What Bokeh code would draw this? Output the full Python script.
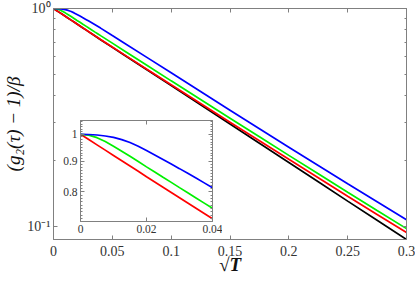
from bokeh.plotting import figure
from bokeh.models import ColumnDataSource, FixedTicker, LinearAxis, LogAxis, Range1d, CustomJSTickFormatter
from bokeh.embed import file_html
from bokeh.resources import INLINE

# sqrt(T) sample positions
x = [0, 0.0025, 0.005, 0.0075, 0.01, 0.0125, 0.015, 0.0175, 0.02, 0.0225, 0.025, 0.0275,
     0.03, 0.0325, 0.035, 0.0375, 0.04, 0.05, 0.06, 0.08,
     0.1, 0.125, 0.15, 0.175, 0.2, 0.225, 0.25, 0.275, 0.3]

# (g2(tau)-1)/beta for the four curves
black = [1.0, 0.9797, 0.9598, 0.9404, 0.9213, 0.9026, 0.8843, 0.8664, 0.8483, 0.8311, 0.8140, 0.7974,
         0.7811, 0.7652, 0.7495, 0.7340, 0.7189, 0.6630, 0.6114, 0.5200,
         0.4422, 0.3613, 0.2949, 0.2407, 0.1963, 0.1601, 0.1304, 0.1065, 0.0869]
red = [1.0, 0.9797, 0.9598, 0.9404, 0.9213, 0.9026, 0.8843, 0.8664, 0.8483, 0.8313, 0.8146, 0.7981,
       0.7819, 0.7661, 0.7505, 0.7353, 0.7204, 0.6650, 0.6139, 0.5231,
       0.4462, 0.3660, 0.3003, 0.2468, 0.2029, 0.1670, 0.1374, 0.1133, 0.0935]
green = [1.0, 0.9970, 0.9871, 0.9724, 0.9550, 0.9366, 0.9181, 0.8996, 0.8813, 0.8639, 0.8466, 0.8298,
         0.8132, 0.7971, 0.7812, 0.7657, 0.7504, 0.6935, 0.6402, 0.5455,
         0.4653, 0.3818, 0.3132, 0.2574, 0.2116, 0.1741, 0.1433, 0.1181, 0.0975]
blue = [1.0, 0.9993, 0.9972, 0.9934, 0.9881, 0.9797, 0.9685, 0.9546, 0.9389, 0.9231, 0.9072, 0.8912,
        0.8753, 0.8595, 0.8438, 0.8283, 0.8128, 0.7513, 0.6949, 0.5933,
        0.5066, 0.4156, 0.3410, 0.2803, 0.2306, 0.1901, 0.1568, 0.1295, 0.1070]

# main axes ticks / labels
x_ticks = [0, 0.05, 0.1, 0.15, 0.2, 0.25, 0.3]
x_tick_labels = ["0", "0.05", "0.1", "0.15", "0.2", "0.25", "0.3"]
y_ticks = [0.1, 1]
y_tick_labels = ["10\u207b\u00b9", "10\u2070"]
y_minor = [0.2, 0.3, 0.4, 0.5, 0.6, 0.7, 0.8, 0.9]

# inset ticks / labels
ix_ticks = [0, 0.02, 0.04]
ix_tick_labels = ["0", "0.02", "0.04"]
iy_ticks = [0.8, 0.9, 1]
iy_tick_labels = ["0.8", "0.9", "1"]
iy_minor = [0.72, 0.73, 0.74, 0.75, 0.76, 0.77, 0.78, 0.79, 0.81, 0.82, 0.83, 0.84, 0.85,
            0.86, 0.87, 0.88, 0.89, 0.91, 0.92, 0.93, 0.94, 0.95, 0.96, 0.97, 0.98, 0.99,
            1.01, 1.02, 1.03, 1.04, 1.05]
n_inset = 17  # points with x <= 0.04

GRAY = "#808080"
TXT = "#333333"
FONT = "Liberation Serif"


def style_axis(ax, ticks, minor=None, labels=None, size="14px", standoff=3):
    ax.ticker = FixedTicker(ticks=ticks, minor_ticks=minor or [])
    ax.axis_line_color = GRAY
    ax.major_tick_line_color = GRAY
    ax.minor_tick_line_color = GRAY
    ax.major_tick_in = 4
    ax.major_tick_out = 0
    ax.minor_tick_in = 2
    ax.minor_tick_out = 0
    ax.major_label_text_font = FONT
    ax.major_label_text_color = TXT
    ax.major_label_text_font_size = size
    if labels is None:
        ax.formatter = CustomJSTickFormatter(code="return ''")
        ax.major_label_standoff = 0
    else:
        ax.major_label_standoff = standoff
        ax.major_label_overrides = {t: l for t, l in zip(ticks, labels)}


src = ColumnDataSource(dict(x=x, black=black, red=red, green=green, blue=blue))
isrc = ColumnDataSource(dict(x=x[:n_inset], red=red[:n_inset], green=green[:n_inset], blue=blue[:n_inset]))

p = figure(width=415, height=281, x_range=Range1d(0, 0.3), y_range=Range1d(0.0869, 1.0),
           y_axis_type="log", output_backend="svg", toolbar_location=None,
           min_border_left=53, min_border_right=9, min_border_top=8, min_border_bottom=42)
p.xgrid.visible = False
p.ygrid.visible = False
p.outline_line_color = GRAY
p.background_fill_color = "white"
p.border_fill_color = "white"

colors = {"black": "#000000", "red": "#ff0000", "green": "#00f000", "blue": "#0000ff"}
for col in ["black", "red", "green", "blue"]:
    p.line("x", col, source=src, line_color=colors[col], line_width=1.7)

bx = p.below[0]
ly = p.left[0]
style_axis(bx, x_ticks, labels=x_tick_labels, standoff=6)
style_axis(ly, y_ticks, y_minor, labels=y_tick_labels, standoff=3)
bx.axis_label = "\u221aT"
bx.axis_label_text_font = FONT
bx.axis_label_text_font_style = "bold italic"
bx.axis_label_text_font_size = "19px"
bx.axis_label_text_color = "#111111"
bx.axis_label_standoff = -5
ly.axis_label = "(g\u2082(\u03c4) \u2212 1)/\u03b2"
ly.axis_label_text_font = FONT
ly.axis_label_text_font_style = "italic"
ly.axis_label_text_font_size = "19px"
ly.axis_label_text_color = "#111111"
ly.axis_label_standoff = 0

top_ax = LinearAxis()
style_axis(top_ax, x_ticks)
p.add_layout(top_ax, "above")
right_ax = LogAxis()
style_axis(right_ax, y_ticks, y_minor)
p.add_layout(right_ax, "right")

# inset (separate root, placed over the main plot)
ins = figure(width=164, height=123, x_range=Range1d(0, 0.04), y_range=Range1d(0.713, 1.055),
             y_axis_type="log", output_backend="svg", toolbar_location=None,
             min_border_left=22, min_border_right=10, min_border_top=5, min_border_bottom=17,
             styles={"position": "absolute", "left": "58px", "top": "115px"})
ins.xgrid.visible = False
ins.ygrid.visible = False
ins.outline_line_color = GRAY
ins.background_fill_color = "white"
ins.border_fill_alpha = 0
for col in ["red", "green", "blue"]:
    ins.line("x", col, source=isrc, line_color=colors[col], line_width=1.7)

style_axis(ins.below[0], ix_ticks, labels=ix_tick_labels, size="11.5px", standoff=3)
style_axis(ins.left[0], iy_ticks, iy_minor, labels=iy_tick_labels, size="11.5px", standoff=3)
itop = LinearAxis()
style_axis(itop, ix_ticks)
ins.add_layout(itop, "above")
iright = LogAxis()
style_axis(iright, iy_ticks, iy_minor)
ins.add_layout(iright, "right")

open("out.html", "w").write(file_html([p, ins], INLINE))
